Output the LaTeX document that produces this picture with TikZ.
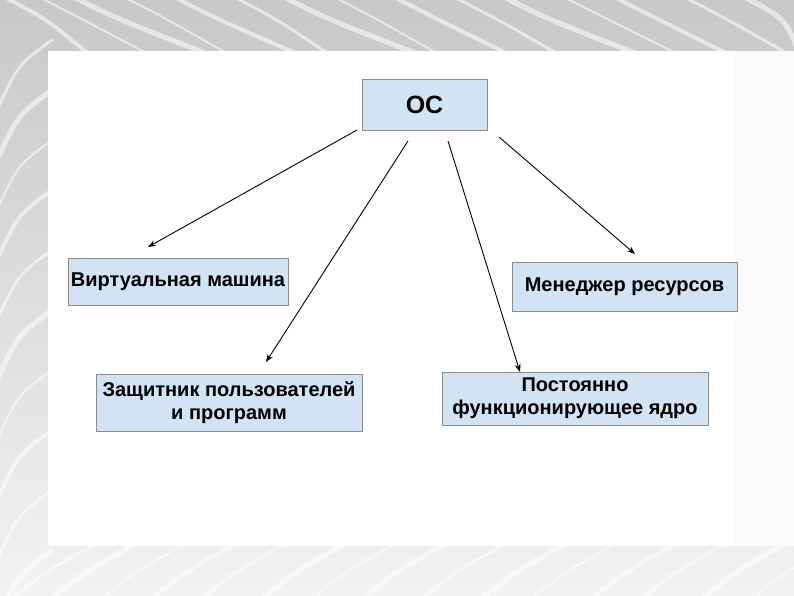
\documentclass[tikz,border=0pt]{standalone}
\usepackage{fontspec}
\setmainfont{Liberation Sans}
\usetikzlibrary{arrows.meta}
\definecolor{boxfill}{RGB}{210,228,244}
\definecolor{boxline}{RGB}{140,140,140}
\definecolor{bggray}{RGB}{200,200,200}
\tikzset{
  box/.style={draw=boxline, line width=0.8pt, fill=boxfill, inner sep=0pt, font=\bfseries\fontsize{20}{23}\selectfont, align=center},
  conn/.style={line width=0.9pt, -{Stealth[length=8pt,width=6pt]}},
  feather/.style={white, line width=#1, opacity=0.55, line cap=round},
}
\begin{document}
\begin{tikzpicture}[x=1pt,y=-1pt]
\useasboundingbox (0,0) rectangle (794,595);
% background texture
\shade[top color=bggray, bottom color=white!90!gray] (0,0) rectangle (794,595);
\foreach \a/\b/\w in {0/90/4,35/150/2,70/210/5,120/230/2,170/300/4,230/330/3,280/420/5,330/440/2,390/510/4,450/560/3,500/640/5,560/680/2,610/730/4,680/790/3,740/800/5}{
  \draw[feather=\w pt] (\a,-5) .. controls (\a+45,18) .. (\b,55);
}
\foreach \a/\w in {0/3,40/5,90/2,140/4,190/3,250/5,300/2,350/4,410/3,470/5,520/2,580/4,630/3,690/5,740/2}{
  \draw[feather=\w pt] (\a+10,600) .. controls (\a+45,572) .. (\a+95,544);
}
\foreach \y/\w in {40/3,90/5,140/2,190/4,250/3,310/5,370/2,430/4,490/3,550/5}{
  \draw[feather=\w pt] (-3,\y+70) .. controls (18,\y+25) .. (52,\y);
}
\fill[white!96!gray] (48,51) rectangle (794,546);
\fill[white] (48,51) rectangle (735,546);
% nodes
\node[box, minimum width=125, minimum height=51, font=\bfseries\fontsize{25}{28}\selectfont] (os) at (424.5,104.5) {ОС};
\node[box, minimum width=220, minimum height=47] (vm) at (178,281.5) {Виртуальная машина};
\node[box, minimum width=225, minimum height=49] (rm) at (624.5,286.5) {Менеджер ресурсов};
\node[box, minimum width=266, minimum height=57] (zp) at (229,402.5) {Защитник пользователей\\и программ};
\node[box, minimum width=266, minimum height=53] (pk) at (575,398.5) {Постоянно\\функционирующее ядро};
% connector end coordinates
\coordinate (s1) at (357,130);
\coordinate (e1) at (148,247);
\coordinate (s2) at (408,141);
\coordinate (e2) at (266,362);
\coordinate (s3) at (448,141);
\coordinate (e3) at (520,372);
\coordinate (s4) at (499,137);
\coordinate (e4) at (635,254);
\draw[conn] (s1) -- (e1);
\draw[conn] (s2) -- (e2);
\draw[conn] (s3) -- (e3);
\draw[conn] (s4) -- (e4);
\end{tikzpicture}
\end{document}
